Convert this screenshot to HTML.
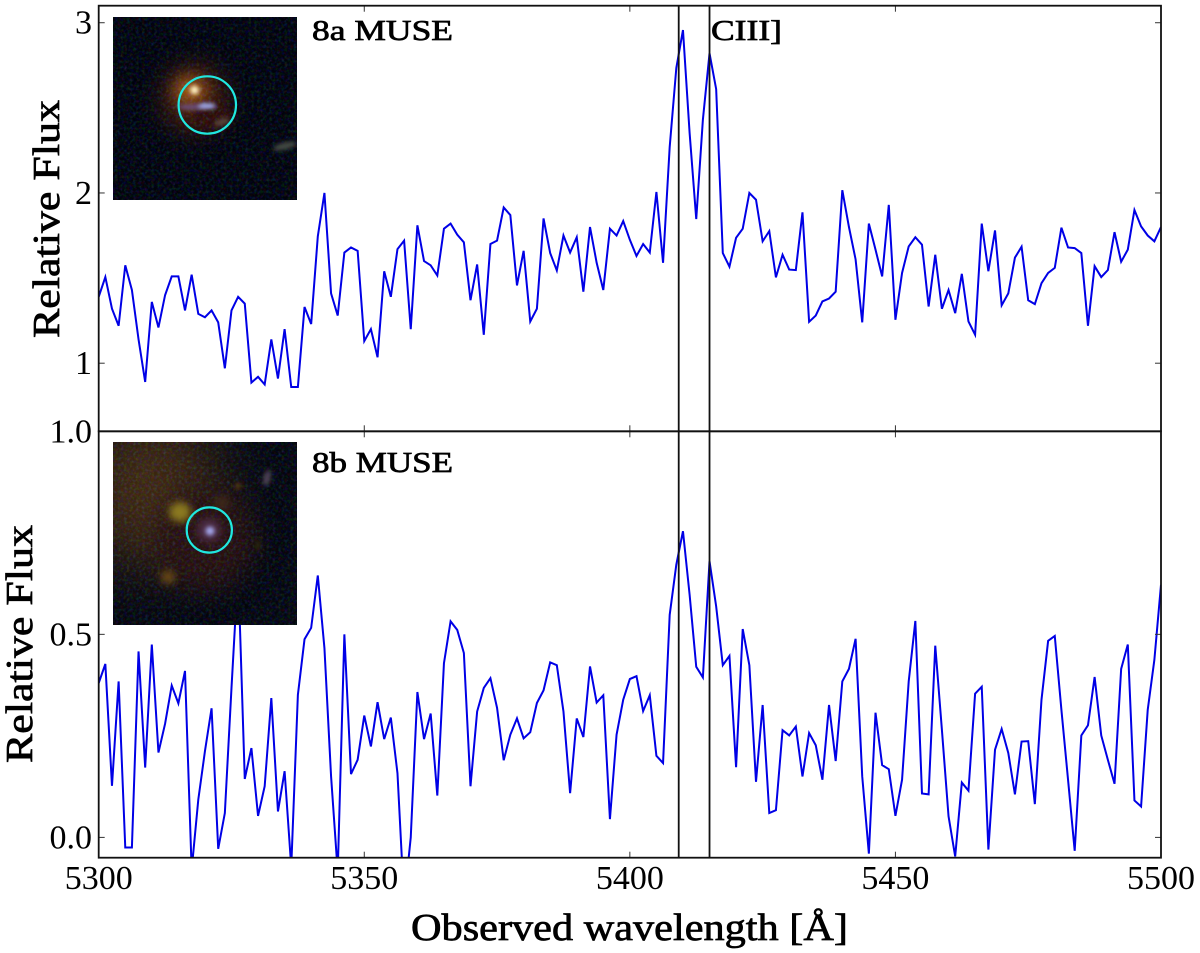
<!DOCTYPE html>
<html lang="en">
<head>
<meta charset="utf-8">
<title>Observed spectra 8a and 8b MUSE</title>
<style>
html,body{margin:0;padding:0;background:#fff;width:1200px;height:953px;overflow:hidden}
svg{display:block}
text{font-family:"Liberation Serif",serif;fill:#000}
</style>
</head>
<body>
<svg id="chart" xmlns="http://www.w3.org/2000/svg" width="1200" height="953" viewBox="0 0 1200 953">
  <defs>
    <clipPath id="clip-top"><rect x="99" y="5.7" width="1062" height="425.6"/></clipPath>
    <clipPath id="clip-bottom"><rect x="99" y="431.3" width="1062" height="426.4"/></clipPath>
    <clipPath id="clip-inset-a"><rect x="113" y="17" width="184" height="183"/></clipPath>
    <clipPath id="clip-inset-b"><rect x="113" y="442" width="184" height="183"/></clipPath>
    <filter id="b2" x="-60%" y="-60%" width="220%" height="220%" color-interpolation-filters="sRGB"><feGaussianBlur stdDeviation="2"/></filter>
    <filter id="b4" x="-60%" y="-60%" width="220%" height="220%" color-interpolation-filters="sRGB"><feGaussianBlur stdDeviation="4"/></filter>
    <filter id="b8" x="-80%" y="-80%" width="260%" height="260%" color-interpolation-filters="sRGB"><feGaussianBlur stdDeviation="8"/></filter>
    <filter id="b14" x="-80%" y="-80%" width="260%" height="260%" color-interpolation-filters="sRGB"><feGaussianBlur stdDeviation="14"/></filter>
    <filter id="b30" x="-80%" y="-80%" width="260%" height="260%" color-interpolation-filters="sRGB"><feGaussianBlur stdDeviation="30"/></filter>
    <filter id="grain" x="0" y="0" width="100%" height="100%" color-interpolation-filters="sRGB">
      <feTurbulence type="fractalNoise" baseFrequency="0.33" numOctaves="2" seed="7"/>
      <feColorMatrix type="matrix" values="0.32 0 0 0 -0.15  0 0.36 0 0 -0.16  0 0 0.5 0 -0.21  0 0 0 0 1"/>
    </filter>
  </defs>

  <g id="inset-a" clip-path="url(#clip-inset-a)">
    <rect x="113" y="17" width="184" height="183" fill="#01030a"/>
    <ellipse cx="194" cy="98" rx="30" ry="32" fill="#4e2008" filter="url(#b14)"/>
    <ellipse cx="190" cy="90" rx="15" ry="13" fill="#a05a16" filter="url(#b8)"/>
    <ellipse cx="212" cy="116" rx="20" ry="13" fill="#2c0d06" filter="url(#b4)"/>
    <rect x="113" y="17" width="184" height="183" filter="url(#grain)" style="mix-blend-mode:screen"/>
    <ellipse cx="194.5" cy="90" rx="4.5" ry="4.5" fill="#fff0c0" filter="url(#b2)"/>
    <ellipse cx="192" cy="107" rx="14" ry="3" fill="#6c4e78" filter="url(#b2)"/>
    <ellipse cx="207" cy="106" rx="9" ry="3" fill="#a4aef2" filter="url(#b2)"/>
    <ellipse cx="222" cy="122" rx="8" ry="3" fill="#5c4a40" transform="rotate(-20 222 122)" filter="url(#b2)"/>
    <ellipse cx="285" cy="146" rx="12" ry="3.5" fill="#454b44" transform="rotate(-14 285 146)" filter="url(#b2)"/>
  </g>
  <circle cx="207.3" cy="105" r="28.7" fill="none" stroke="#20e8e0" stroke-width="2.2"/>

  <g id="inset-b" clip-path="url(#clip-inset-b)">
    <rect x="113" y="442" width="184" height="183" fill="#04060c"/>
    <ellipse cx="150" cy="490" rx="70" ry="80" fill="#3e2810" filter="url(#b30)"/>
    <ellipse cx="205" cy="540" rx="50" ry="50" fill="#26100c" filter="url(#b14)"/>
    <rect x="113" y="442" width="184" height="183" filter="url(#grain)" style="mix-blend-mode:screen"/>
    <ellipse cx="180" cy="512" rx="11" ry="10" fill="#8c7a20" filter="url(#b4)"/>
    <ellipse cx="168" cy="577" rx="7" ry="7" fill="#6a4a16" filter="url(#b4)"/>
    <ellipse cx="222" cy="503" rx="8" ry="7" fill="#3e281a" filter="url(#b4)"/>
    <ellipse cx="238" cy="486" rx="3.5" ry="3.5" fill="#4c3210" filter="url(#b2)"/>
    <ellipse cx="267" cy="478" rx="3.5" ry="8" fill="#4e4256" transform="rotate(15 267 478)" filter="url(#b2)"/>
    <ellipse cx="258" cy="545" rx="3" ry="5" fill="#2a260c" filter="url(#b2)"/>
    <ellipse cx="209" cy="530" rx="12" ry="12" fill="#4c2c44" filter="url(#b4)"/>
    <ellipse cx="210" cy="531" rx="4.5" ry="4.5" fill="#a4a8ee" filter="url(#b2)"/>
  </g>
  <circle cx="209.3" cy="530" r="22.6" fill="none" stroke="#20e8e0" stroke-width="2.2"/>
</svg>

<script>
// Observed wavelength grid: start and sampling of the spectra
const waveStart = 5300;
const waveStep = 1.25;

// Relative flux, panel 8a
const flux8a = [
1.39,1.506,1.32,1.22,1.575,1.43,1.14,0.89,1.36,1.21,1.40,1.51,1.51,1.31,1.52,1.29,1.27,1.31,1.24,0.97,
1.31,1.39,1.35,0.886,0.92,0.875,1.14,0.91,1.20,0.86,0.86,1.33,1.23,1.745,2.00,1.41,1.28,1.65,1.68,1.66,
1.13,1.20,1.035,1.54,1.39,1.67,1.72,1.20,1.81,1.60,1.575,1.515,1.79,1.82,1.755,1.71,1.37,1.58,1.167,1.70,
1.72,1.915,1.87,1.457,1.66,1.245,1.32,1.85,1.647,1.545,1.75,1.65,1.74,1.42,1.80,1.59,1.43,1.79,1.75,1.835,
1.725,1.63,1.70,1.65,2.006,1.59,2.27,2.735,2.957,2.353,1.847,2.43,2.82,2.61,1.647,1.567,1.737,1.79,2.0,1.96,
1.716,1.776,1.504,1.637,1.55,1.547,1.886,1.243,1.28,1.363,1.38,1.42,2.016,1.80,1.61,1.24,1.82,1.667,1.51,1.93,
1.255,1.53,1.686,1.74,1.696,1.333,1.637,1.32,1.43,1.294,1.525,1.245,1.167,1.82,1.54,1.78,1.34,1.41,1.62,1.684,
1.37,1.347,1.47,1.53,1.56,1.796,1.68,1.676,1.647,1.22,1.57,1.506,1.547,1.77,1.596,1.667,1.90,1.804,1.75,1.716,1.80
];

// Relative flux, panel 8b
const flux8b = [
0.38,0.427,0.127,0.384,-0.025,-0.025,0.458,0.172,0.475,0.209,0.28,0.374,0.33,0.41,-0.08,0.093,0.212,0.318,-0.028,0.06,
0.368,0.66,0.144,0.22,0.053,0.126,0.343,0.064,0.163,-0.073,0.351,0.488,0.516,0.645,0.466,0.15,-0.085,0.5,0.156,0.191,
0.30,0.224,0.333,0.242,0.295,0.158,-0.16,0.0,0.358,0.242,0.305,0.103,0.429,0.532,0.511,0.454,0.126,0.31,0.368,0.392,
0.319,0.19,0.253,0.293,0.244,0.259,0.331,0.362,0.431,0.424,0.31,0.109,0.293,0.247,0.421,0.332,0.35,0.045,0.253,0.339,
0.39,0.397,0.311,0.35,0.201,0.183,0.548,0.672,0.754,0.598,0.42,0.394,0.68,0.569,0.424,0.447,0.173,0.513,0.424,0.137,
0.326,0.06,0.067,0.264,0.251,0.273,0.15,0.257,0.227,0.142,0.326,0.188,0.384,0.415,0.489,0.15,-0.04,0.307,0.178,0.168,
0.053,0.142,0.384,0.533,0.108,0.106,0.472,0.265,0.052,-0.047,0.135,0.115,0.354,0.371,-0.03,0.216,0.267,0.208,0.106,0.236,
0.237,0.082,0.339,0.484,0.496,0.314,0.142,-0.033,0.251,0.276,0.395,0.251,0.191,0.132,0.415,0.475,0.091,0.076,0.314,0.437,0.622
];

// Emission line markers (Angstrom)
const lineWaves = [5409.2, 5415];

// Tick values and labels
const xTicks = [5300, 5350, 5400, 5450, 5500];
const xTickLabels = ["5300", "5350", "5400", "5450", "5500"];
const yTicksA = [1, 2, 3];
const yTickLabelsA = ["1", "2", "3"];
const yTicksB = [0, 0.5, 1];
const yTickLabelsB = ["0.0", "0.5", "1.0"];

const svg = document.getElementById('chart');
const NS = 'http://www.w3.org/2000/svg';
const insetA = document.getElementById('inset-a');

// Axis functions
const xMinVal = 5300, xMaxVal = 5500, pxLeft = 98.7, pxRight = 1161;
const topPx = 5.7, midPx = 431.3, botPx = 857.7;
function sx(v) { return pxLeft + (v - xMinVal) * (pxRight - pxLeft) / (xMaxVal - xMinVal); }
function syA(v) { return midPx + (0.6 - v) * (midPx - topPx) / 2.5; }
function syB(v) { return botPx + (-0.05 - v) * (botPx - midPx) / 1.05; }

function mk(tag, attrs, text) {
  const el = document.createElementNS(NS, tag);
  for (const k in attrs) el.setAttribute(k, attrs[k]);
  if (text !== undefined) el.textContent = text;
  return el;
}
function place(el) { svg.insertBefore(el, insetA); }

// Spectra, drawn underneath the insets
function linePoints(values, sy) {
  return values.map((v, i) => sx(waveStart + i * waveStep).toFixed(2) + ',' + sy(v).toFixed(2)).join(' ');
}
const lineA = mk('polyline', {points: linePoints(flux8a, syA), fill: 'none', stroke: '#0000e6', 'stroke-width': 2, 'stroke-linejoin': 'miter', 'clip-path': 'url(#clip-top)'});


place(lineA);
const lineB = mk('polyline', {points: linePoints(flux8b, syB), fill: 'none', stroke: '#0000e6', 'stroke-width': 2, 'stroke-linejoin': 'miter', 'clip-path': 'url(#clip-bottom)'});


place(lineB);

// Vertical emission line markers
lineWaves.forEach(function (w) {
  const m = mk('line', {x1: sx(w), x2: sx(w), y1: topPx, y2: botPx, stroke: '#111', 'stroke-width': 1.8});
  
  
  svg.appendChild(m);
});

// Ticks
[[topPx, 1], [midPx, -1], [midPx, 1], [botPx, -1]].forEach(function (spec) {
  xTicks.forEach(function (t) {
    const tick = mk('line', {x1: sx(t), x2: sx(t), y1: spec[0], y2: spec[0] + spec[1] * 6, stroke: '#333', 'stroke-width': 1});
    
    
    svg.appendChild(tick);
  });
});
[[yTicksA, syA], [yTicksB, syB]].forEach(function (spec) {
  spec[0].forEach(function (t) {
    const y = spec[1](t);
    const tl = mk('line', {x1: pxLeft, x2: pxLeft + 6, y1: y, y2: y, stroke: '#333', 'stroke-width': 1});
    
    
    svg.appendChild(tl);
    const tr = mk('line', {x1: pxRight, x2: pxRight - 6, y1: y, y2: y, stroke: '#333', 'stroke-width': 1});
    
    
    svg.appendChild(tr);
  });
});

// Spines
const frameA = mk('rect', {x: pxLeft, y: topPx, width: pxRight - pxLeft, height: midPx - topPx, fill: 'none', stroke: '#111', 'stroke-width': 1.8});


svg.appendChild(frameA);
const frameB = mk('rect', {x: pxLeft, y: midPx, width: pxRight - pxLeft, height: botPx - midPx, fill: 'none', stroke: '#111', 'stroke-width': 1.8});


svg.appendChild(frameB);

// Tick labels
xTicks.forEach(function (t, i) {
  const lbl = mk('text', {x: sx(t), y: 889, 'text-anchor': 'middle', 'font-size': 34}, xTickLabels[i]);
  
  
  svg.appendChild(lbl);
});
yTicksA.forEach(function (t, i) {
  const lbl = mk('text', {x: 92, y: syA(t) + 11, 'text-anchor': 'end', 'font-size': 34}, yTickLabelsA[i]);
  
  
  svg.appendChild(lbl);
});
yTicksB.forEach(function (t, i) {
  const lbl = mk('text', {x: 92, y: syB(t) + 11, 'text-anchor': 'end', 'font-size': 34}, yTickLabelsB[i]);
  
  
  svg.appendChild(lbl);
});

// Axis titles and annotations
const heavy = {stroke: '#000', 'stroke-width': 0.7, 'font-weight': 'normal', lengthAdjust: 'spacingAndGlyphs'};
const xTitle = mk('text', Object.assign({x: 411, y: 940, 'font-size': 38, textLength: 437}, heavy), 'Observed wavelength [Å]');


svg.appendChild(xTitle);

const yTitleA = mk('text', Object.assign({transform: 'translate(59,338) rotate(-90)', 'font-size': 38, textLength: 238}, heavy), 'Relative Flux');


svg.appendChild(yTitleA);

const yTitleB = mk('text', Object.assign({transform: 'translate(32,763) rotate(-90)', 'font-size': 38, textLength: 238}, heavy), 'Relative Flux');


svg.appendChild(yTitleB);

const labelA = mk('text', Object.assign({x: 312, y: 40, 'font-size': 29, textLength: 141}, heavy), '8a MUSE');


svg.appendChild(labelA);

const labelB = mk('text', Object.assign({x: 312, y: 472, 'font-size': 29, textLength: 141}, heavy), '8b MUSE');


svg.appendChild(labelB);

const lineLabel = mk('text', Object.assign({x: 711, y: 40, 'font-size': 29, textLength: 71}, heavy), 'CIII]');


svg.appendChild(lineLabel);
</script>
</body>
</html>
